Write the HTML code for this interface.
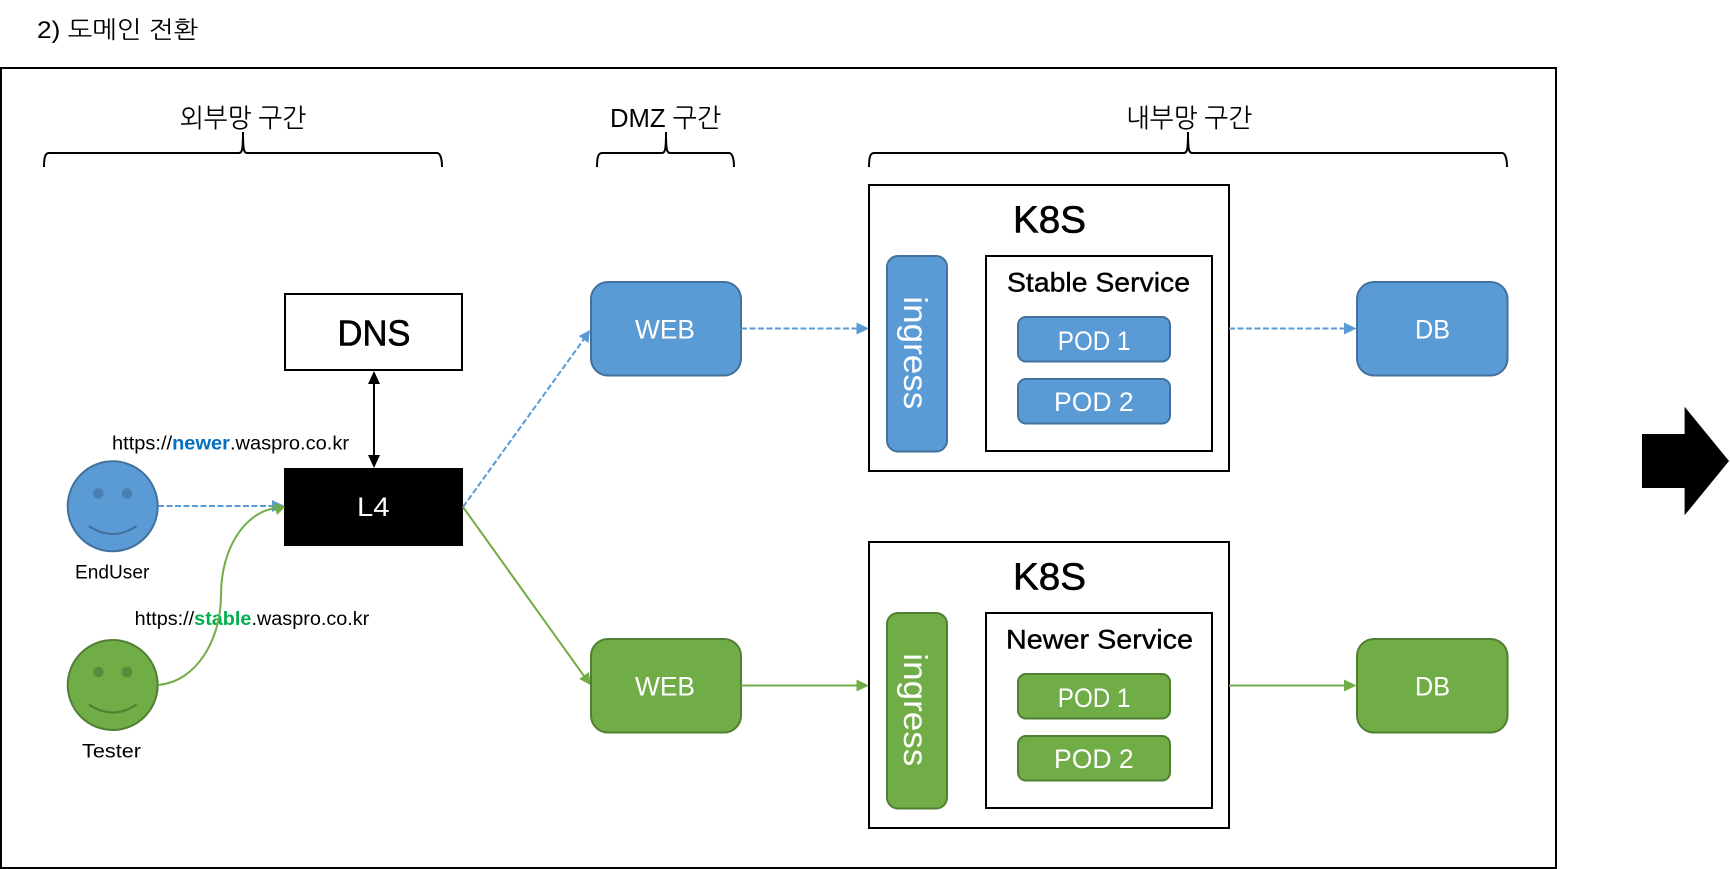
<!DOCTYPE html>
<html><head><meta charset="utf-8">
<style>
html,body{margin:0;padding:0;background:#fff;width:1730px;height:869px;overflow:hidden}
svg{display:block}
text{font-family:"Liberation Sans","NanumGothic","Noto Sans CJK KR",sans-serif;fill:#000}
.k{font-family:"Liberation Sans","NanumGothic","Noto Sans CJK KR",sans-serif}
.w{fill:#fff}
.hv{stroke:#000;stroke-width:.6}
.blue{fill:#5B9BD5;stroke:#41719C;stroke-width:2}
.green{fill:#70AD47;stroke:#507E32;stroke-width:2}
.box{fill:#fff;stroke:#000;stroke-width:2}
.brace{fill:none;stroke:#000;stroke-width:2}
.bl{stroke:#5B9BD5;stroke-width:2;stroke-dasharray:6 2.5;fill:none}
.gl{stroke:#70AD47;stroke-width:2;fill:none}
</style></head><body>
<svg width="1730" height="869" viewBox="0 0 1730 869" xmlns="http://www.w3.org/2000/svg">
<rect width="1730" height="869" fill="#fff"/>
<text class="k" x="37" y="38" font-size="24" textLength="161" lengthAdjust="spacingAndGlyphs">2) 도메인 전환</text>
<rect x="1" y="68" width="1555" height="800" fill="none" stroke="#000" stroke-width="2"/>

<!-- braces -->
<path class="brace" d="M44,167 C44,158 45,153 49,153 L239,153 C242,153 243,150 243,132 C243,150 244,153 247,153 L437,153 C440,153 442,158 442,167"/>
<path class="brace" d="M597,167 C597,158 598,153 602,153 L662,153 C665,153 666,150 666,132 C666,150 667,153 670,153 L729,153 C732,153 734,158 734,167"/>
<path class="brace" d="M869,167 C869,158 870,153 874,153 L1184,153 C1187,153 1188,150 1188,132 C1188,150 1189,153 1192,153 L1502,153 C1505,153 1507,158 1507,167"/>
<text class="k" x="180" y="127" font-size="26" textLength="126" lengthAdjust="spacingAndGlyphs">외부망 구간</text>
<text class="k" x="610" y="127" font-size="26" textLength="111" lengthAdjust="spacingAndGlyphs">DMZ 구간</text>
<text class="k" x="1126" y="127" font-size="26" textLength="126" lengthAdjust="spacingAndGlyphs">내부망 구간</text>

<!-- DNS / L4 -->
<rect class="box" x="285" y="294" width="177" height="76"/>
<text class="hv" x="337.5" y="345.7" font-size="36" textLength="73" lengthAdjust="spacingAndGlyphs">DNS</text>
<rect x="284" y="468" width="179" height="78" fill="#000"/>
<text class="w" x="357" y="516" font-size="27" textLength="32.6" lengthAdjust="spacingAndGlyphs">L4</text>
<line x1="374" y1="382" x2="374" y2="456" stroke="#000" stroke-width="2"/>
<polygon points="374,371 368,384 380,384" fill="#000"/>
<polygon points="374,468 368,455 380,455" fill="#000"/>

<!-- URLs -->
<text x="112" y="449.3" font-size="19" textLength="237" lengthAdjust="spacingAndGlyphs">https://<tspan style="fill:#0070C0;font-weight:bold">newer</tspan>.waspro.co.kr</text>
<text x="134.7" y="625" font-size="19" textLength="234.6" lengthAdjust="spacingAndGlyphs">https://<tspan style="fill:#00B050;font-weight:bold">stable</tspan>.waspro.co.kr</text>

<!-- faces -->
<ellipse class="blue" cx="112.7" cy="506.3" rx="45" ry="45"/>
<circle cx="98.4" cy="493.5" r="5.3" fill="#4A7FAF"/>
<circle cx="127" cy="493.5" r="5.3" fill="#4A7FAF"/>
<path d="M88.8,526 Q112.7,542 136.6,526" fill="none" stroke="#41719C" stroke-width="2"/>
<text x="75" y="578.3" font-size="19" textLength="74.3" lengthAdjust="spacingAndGlyphs">EndUser</text>
<ellipse class="green" cx="112.7" cy="685" rx="45" ry="45"/>
<circle cx="98.4" cy="672" r="5.3" fill="#5A8B3A"/>
<circle cx="127" cy="672" r="5.3" fill="#5A8B3A"/>
<path d="M88.8,704.5 Q112.7,720.5 136.6,704.5" fill="none" stroke="#507E32" stroke-width="2"/>
<text x="82" y="757.3" font-size="19" textLength="59" lengthAdjust="spacingAndGlyphs">Tester</text>

<!-- connectors from faces -->
<line class="bl" x1="158" y1="506" x2="274" y2="506"/>
<polygon points="284.5,506 272,500 272,512" fill="#5B9BD5"/>
<path class="gl" d="M158,685 C196,682 221,640 221,595 C221,548 245,512 276,508"/>
<polygon points="285,507 273.5,503 277,515" fill="#70AD47"/>

<!-- L4 to WEB -->
<line class="bl" x1="463" y1="507" x2="584" y2="339"/>
<polygon points="590,330 588.5,343 578.7,336" fill="#5B9BD5"/>
<line class="gl" x1="463" y1="507" x2="584" y2="676"/>
<polygon points="590.5,685 589,672 579.2,679" fill="#70AD47"/>

<!-- top row -->
<rect class="blue" x="591" y="282" width="150" height="93.5" rx="17"/>
<text class="w" x="635" y="338.3" font-size="27" textLength="60" lengthAdjust="spacingAndGlyphs">WEB</text>
<line class="bl" x1="741" y1="328.5" x2="858" y2="328.5"/>
<polygon points="869,328.5 856.5,322.5 856.5,334.5" fill="#5B9BD5"/>
<rect class="box" x="869" y="185" width="360" height="286"/>
<text class="hv" x="1013" y="232.3" font-size="38" textLength="73" lengthAdjust="spacingAndGlyphs">K8S</text>
<rect class="blue" x="887" y="256" width="60" height="195.5" rx="11"/>
<text class="w" transform="translate(904,296.3) rotate(90)" x="0" y="0" font-size="33" textLength="113" lengthAdjust="spacingAndGlyphs">ingress</text>
<rect class="box" x="986" y="256" width="226" height="195"/>
<text class="hv" style="stroke-width:.4" x="1007" y="291.7" font-size="27" textLength="183" lengthAdjust="spacingAndGlyphs">Stable Service</text>
<rect class="blue" x="1018" y="317" width="152" height="44.5" rx="8"/>
<text class="w" x="1057.8" y="350" font-size="27" textLength="72.7" lengthAdjust="spacingAndGlyphs">POD 1</text>
<rect class="blue" x="1018" y="379" width="152" height="44.5" rx="8"/>
<text class="w" x="1054" y="411" font-size="27" textLength="79.6" lengthAdjust="spacingAndGlyphs">POD 2</text>
<line class="bl" x1="1229" y1="328.5" x2="1346" y2="328.5"/>
<polygon points="1356.5,328.5 1344,322.5 1344,334.5" fill="#5B9BD5"/>
<rect class="blue" x="1357" y="282" width="150.5" height="93.5" rx="17"/>
<text class="w" x="1415" y="338.3" font-size="27" textLength="35" lengthAdjust="spacingAndGlyphs">DB</text>

<!-- bottom row -->
<rect class="green" x="591" y="639" width="150" height="93.5" rx="17"/>
<text class="w" x="635" y="695.3" font-size="27" textLength="60" lengthAdjust="spacingAndGlyphs">WEB</text>
<line class="gl" x1="741" y1="685.5" x2="858" y2="685.5"/>
<polygon points="869,685.5 856.5,679.5 856.5,691.5" fill="#70AD47"/>
<rect class="box" x="869" y="542" width="360" height="286"/>
<text class="hv" x="1013" y="589.3" font-size="38" textLength="73" lengthAdjust="spacingAndGlyphs">K8S</text>
<rect class="green" x="887" y="613" width="60" height="195.5" rx="11"/>
<text class="w" transform="translate(904,653.3) rotate(90)" x="0" y="0" font-size="33" textLength="113" lengthAdjust="spacingAndGlyphs">ingress</text>
<rect class="box" x="986" y="613" width="226" height="195"/>
<text class="hv" style="stroke-width:.4" x="1006" y="648.7" font-size="27" textLength="187" lengthAdjust="spacingAndGlyphs">Newer Service</text>
<rect class="green" x="1018" y="674" width="152" height="44.5" rx="8"/>
<text class="w" x="1057.8" y="707" font-size="27" textLength="72.7" lengthAdjust="spacingAndGlyphs">POD 1</text>
<rect class="green" x="1018" y="736" width="152" height="44.5" rx="8"/>
<text class="w" x="1054" y="768" font-size="27" textLength="79.6" lengthAdjust="spacingAndGlyphs">POD 2</text>
<line class="gl" x1="1229" y1="685.5" x2="1346" y2="685.5"/>
<polygon points="1356.5,685.5 1344,679.5 1344,691.5" fill="#70AD47"/>
<rect class="green" x="1357" y="639" width="150.5" height="93.5" rx="17"/>
<text class="w" x="1415" y="695.3" font-size="27" textLength="35" lengthAdjust="spacingAndGlyphs">DB</text>

<!-- big arrow -->
<polygon points="1642,434 1684.6,434 1684.6,406.7 1729,461 1684.6,515.3 1684.6,488 1642,488" fill="#000"/>
</svg>
</body></html>
